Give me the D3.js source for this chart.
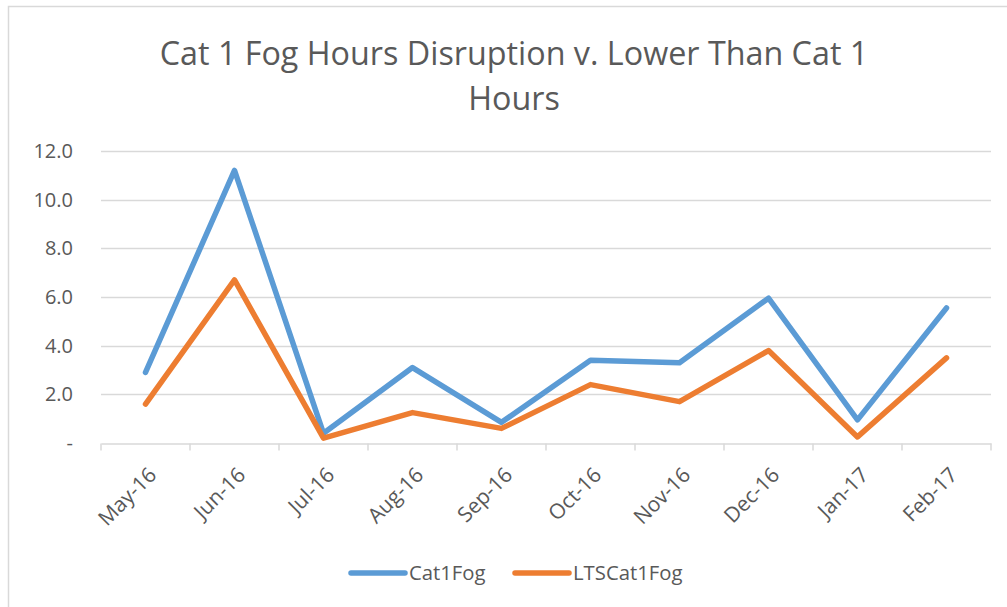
<!DOCTYPE html>
<html><head><meta charset="utf-8">
<script src="https://cdn.jsdelivr.net/npm/d3@7"></script>
<style>body{margin:0;background:#fff}svg{display:block}text{font-family:"Open Sans","Noto Sans",sans-serif;fill:#595959}</style>
</head><body><svg id="c" width="1007" height="607"></svg>
<script>
const months = ["May-16","Jun-16","Jul-16","Aug-16","Sep-16","Oct-16","Nov-16","Dec-16","Jan-17","Feb-17"];
const cat1Fog = [2.9, 11.2, 0.4, 3.1, 0.85, 3.4, 3.3, 5.95, 0.95, 5.55];
const ltsCat1Fog = [1.6, 6.7, 0.2, 1.25, 0.6, 2.4, 1.7, 3.8, 0.25, 3.5];
const yTicks = [0, 2, 4, 6, 8, 10, 12];
const seriesNames = ["Cat1Fog", "LTSCat1Fog"];
const colors = ["#5b9bd5", "#ed7d31"];
const titleLines = ["Cat 1 Fog Hours Disruption v. Lower Than Cat 1", "Hours"];

const svg = d3.select("#c");
svg.append("rect").attr("x",8.5).attr("y",6.5).attr("width",1010).attr("height",620)
  .attr("fill","#fff").attr("stroke","#d9d9d9").attr("stroke-width",1.5);

const x = d3.scaleBand().domain(months).range([101, 991]);
const y = d3.scaleLinear().domain([0, 12]).range([443, 151]);

// gridlines
svg.append("g").selectAll("line").data(yTicks.filter(d=>d>0)).join("line")
  .attr("x1",101).attr("x2",991).attr("y1",d=>Math.round(y(d))+0.5).attr("y2",d=>Math.round(y(d))+0.5)
  .attr("stroke","#d9d9d9").attr("stroke-width",1.5);

// y labels
svg.append("g").selectAll("text").data(yTicks).join("text")
  .attr("x",73).attr("y",d=>y(d)+7).attr("text-anchor","end").attr("font-size",20)
  .text(d=>d===0?"-":d.toFixed(1));

// x axis
const xa = svg.append("g").attr("transform","translate(0,"+(Math.round(y(0))+0.5)+")")
  .call(d3.axisBottom(x).tickSize(0).tickFormat(""));
xa.select(".domain").attr("stroke","#d9d9d9").attr("stroke-width",1.5);
const edges = months.map(m=>x(m)).concat([x.range()[1]]);
xa.selectAll("line.tk").data(edges).join("line").attr("class","tk")
  .attr("x1",d=>d).attr("x2",d=>d).attr("y1",0).attr("y2",7).attr("stroke","#d9d9d9").attr("stroke-width",1.5);
svg.append("g").selectAll("text").data(months).join("text")
  .attr("text-anchor","end").attr("font-size",21)
  .attr("transform",d=>{const cx=x(d)+x.bandwidth()/2+7, cy=y(0)+28; return "translate("+cx+","+cy+") rotate(-45)";})
  .attr("dy","0.35em")
  .text(d=>d);

// lines
const line = d3.line().x((d,i)=>x(months[i])+x.bandwidth()/2).y(d=>y(d));
[cat1Fog, ltsCat1Fog].forEach((s,k)=>{
  svg.append("path").datum(s).attr("d",line).attr("fill","none")
    .attr("stroke",colors[k]).attr("stroke-width",5.5).attr("stroke-linejoin","round").attr("stroke-linecap","round");
});

// title
titleLines.forEach((t,i)=>{
  svg.append("text").attr("x",514).attr("y",65+i*45).attr("text-anchor","middle")
    .attr("font-size",32.3).text(t);
});

// legend
const legX = [351, 515];
seriesNames.forEach((n,k)=>{
  svg.append("line").attr("x1",legX[k]).attr("x2",legX[k]+54).attr("y1",573).attr("y2",573)
    .attr("stroke",colors[k]).attr("stroke-width",5.5).attr("stroke-linecap","round");
  svg.append("text").attr("x",legX[k]+58).attr("y",580).attr("font-size",20.3).text(n);
});
</script></body></html>
